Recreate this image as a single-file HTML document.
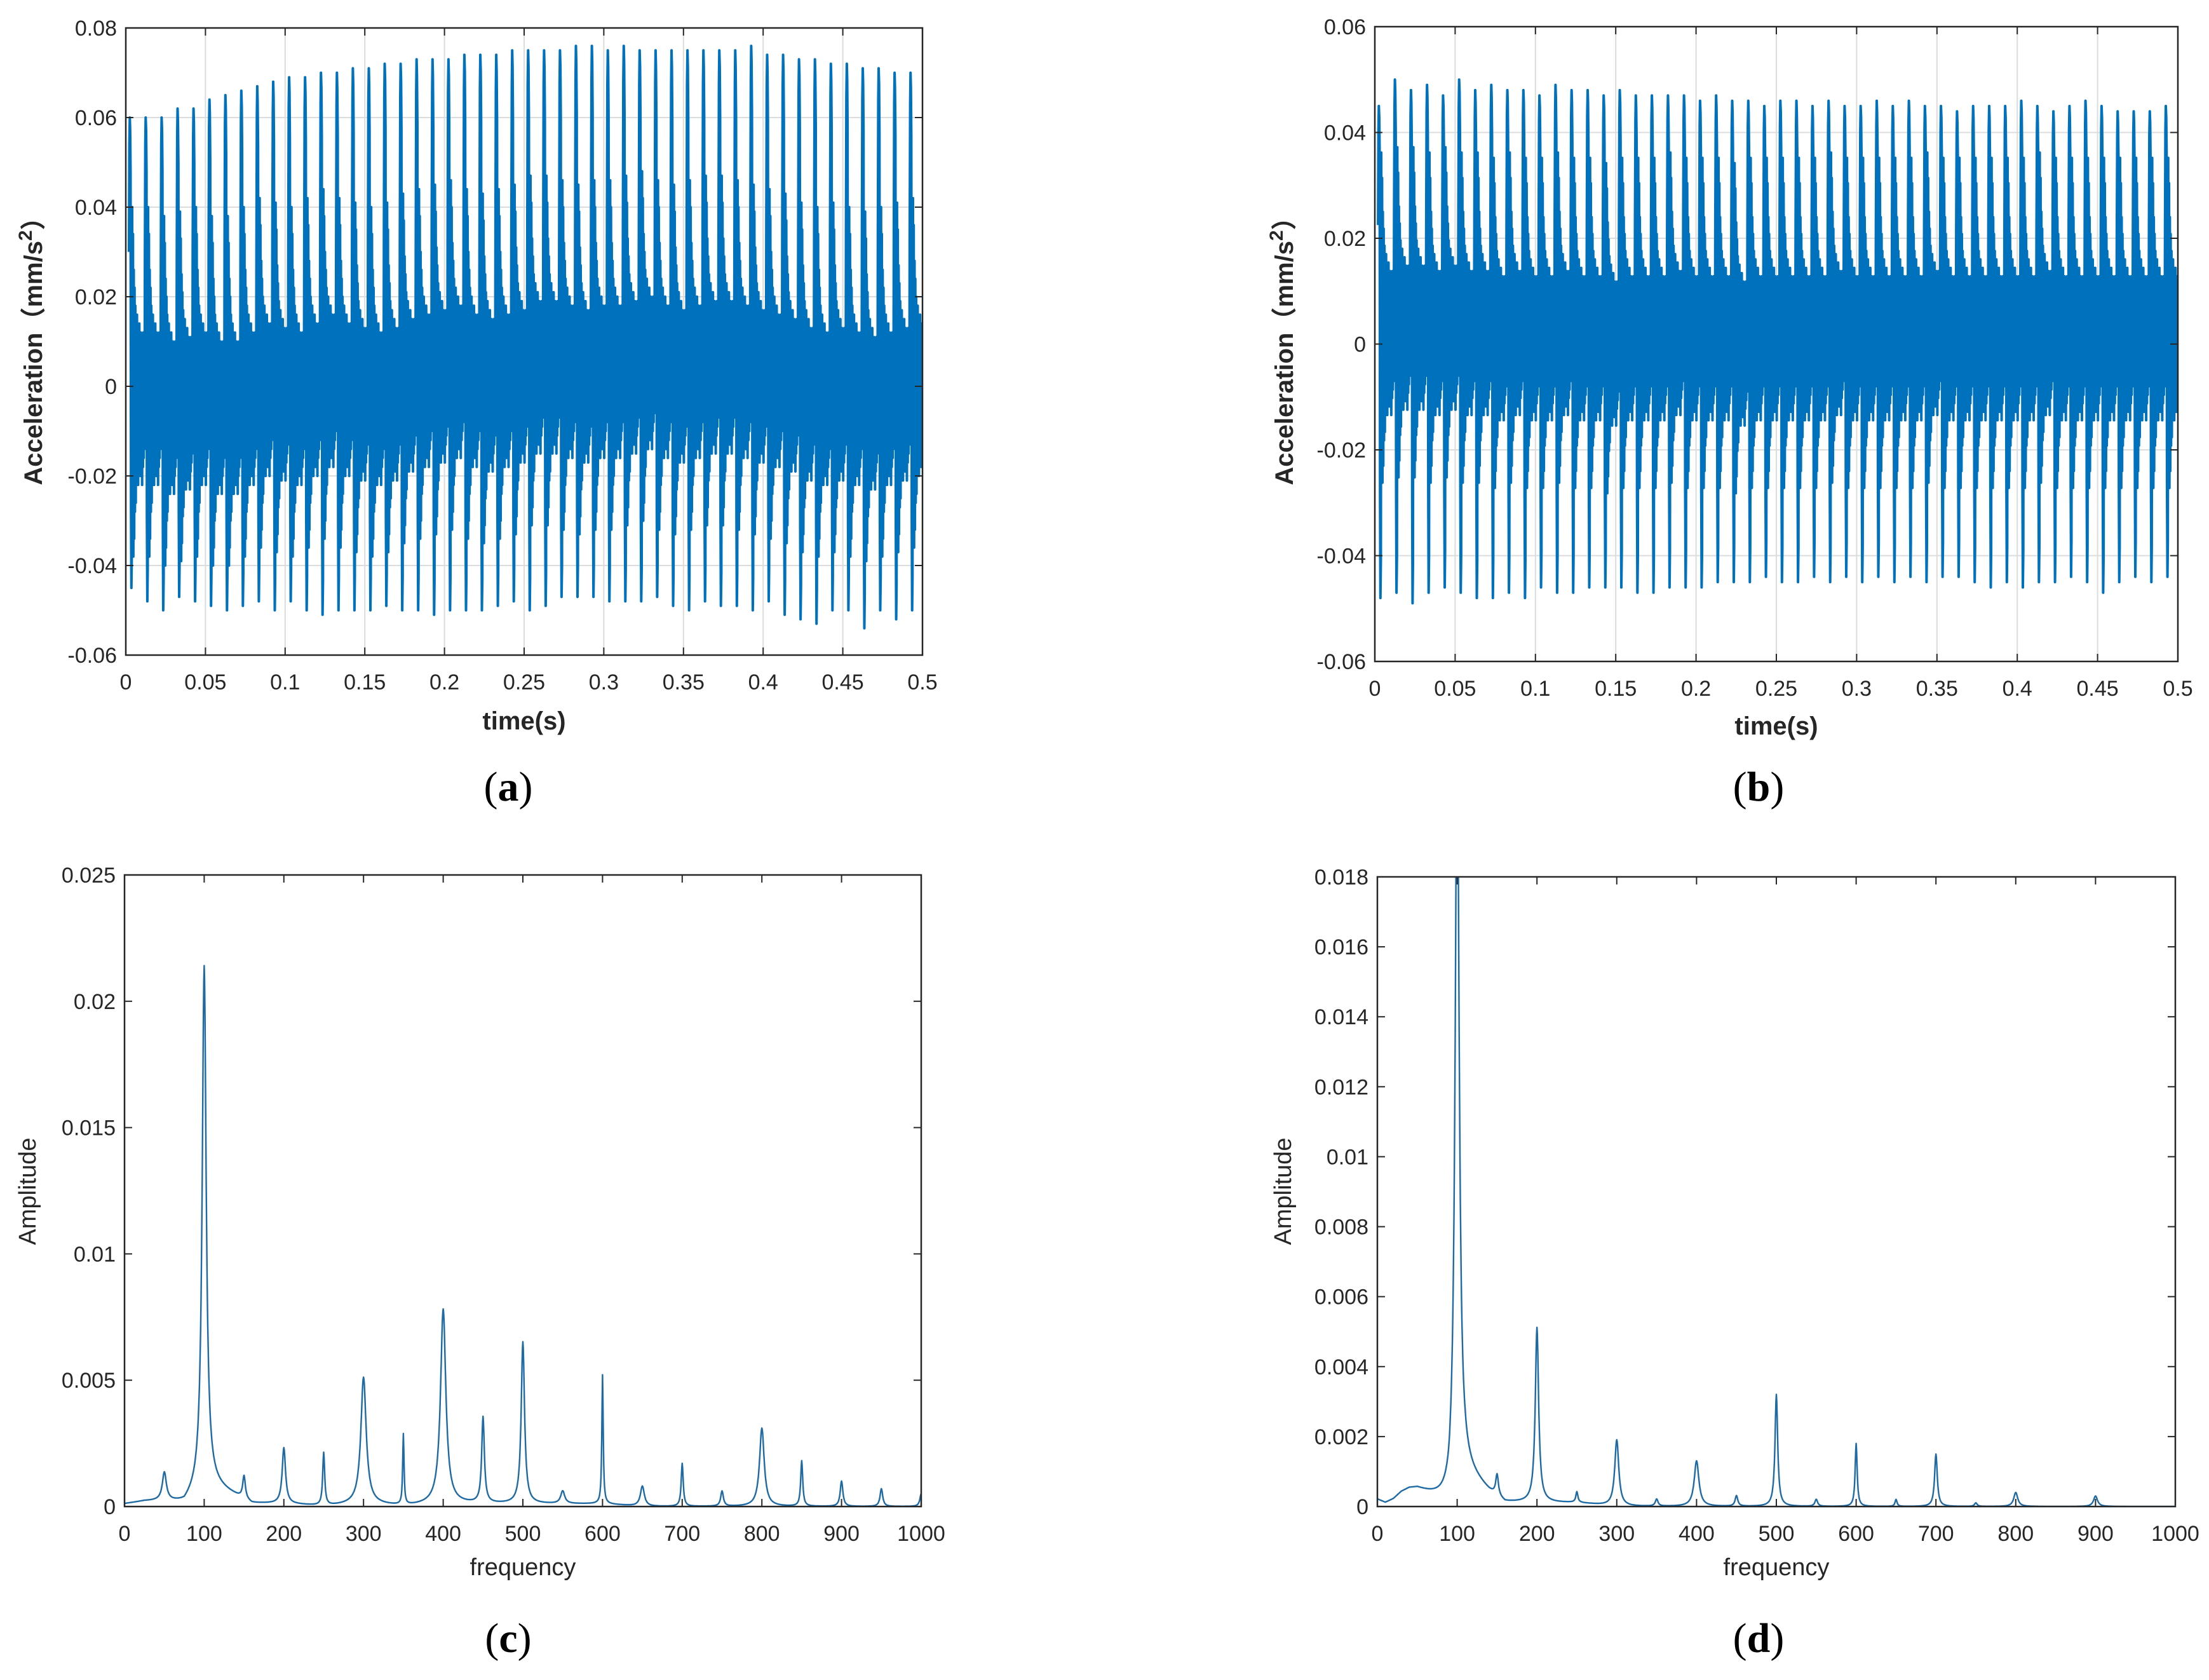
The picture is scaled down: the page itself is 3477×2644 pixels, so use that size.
<!DOCTYPE html>
<html><head><meta charset="utf-8"><style>
html,body{margin:0;padding:0;background:#fff;}
svg{display:block;}
text{font-family:"Liberation Sans","Noto Sans CJK SC",sans-serif;}
</style></head><body>
<svg id="fig" xmlns="http://www.w3.org/2000/svg" width="3477" height="2644" viewBox="0 0 3477 2644"></svg>
<script>
// ---------- data: panel (a) time series, per-cycle extremes ----------
const cycleMaxA=[0.060,0.060,0.060,0.062,0.062,0.064,0.065,0.066,0.067,0.068,0.069,0.069,0.070,0.070,0.071,0.071,0.072,0.072,0.073,0.073,0.073,0.074,0.074,0.074,0.075,0.075,0.075,0.075,0.076,0.076,0.075,0.076,0.075,0.075,0.075,0.075,0.075,0.075,0.075,0.076,0.074,0.074,0.073,0.073,0.072,0.072,0.071,0.071,0.070,0.070];
const cycleMinA=[-0.045,-0.048,-0.050,-0.047,-0.048,-0.049,-0.050,-0.049,-0.048,-0.050,-0.048,-0.050,-0.051,-0.050,-0.050,-0.050,-0.049,-0.050,-0.050,-0.051,-0.050,-0.050,-0.050,-0.049,-0.048,-0.050,-0.049,-0.047,-0.047,-0.047,-0.048,-0.048,-0.048,-0.047,-0.049,-0.050,-0.048,-0.049,-0.049,-0.050,-0.048,-0.051,-0.052,-0.053,-0.050,-0.050,-0.054,-0.050,-0.052,-0.050];
const cycleOffA=[-0.004,-0.004,-0.006,-0.005,-0.004,-0.006,-0.006,-0.004,-0.002,-0.003,-0.004,-0.002,0,-0.002,-0.003,-0.004,-0.003,-0.001,0,0.001,0.002,0,-0.001,0,0.001,0.003,0.003,0.002,0.001,0.002,0.002,0.003,0.004,0.002,0.001,0.002,0.003,0.003,0.002,0.001,0.000,-0.001,-0.003,-0.004,-0.003,-0.004,-0.005,-0.004,-0.003,-0.002];
const interiorAmpA=0.02;
// ---------- data: panel (b) ----------
const cycleMaxB=[0.045,0.050,0.048,0.049,0.047,0.050,0.048,0.049,0.048,0.048,0.047,0.049,0.048,0.048,0.047,0.048,0.047,0.047,0.047,0.047,0.046,0.047,0.046,0.046,0.045,0.046,0.046,0.045,0.046,0.045,0.045,0.046,0.045,0.046,0.045,0.045,0.044,0.045,0.045,0.045,0.046,0.045,0.044,0.045,0.046,0.045,0.044,0.044,0.044,0.045];
const cycleMinB=[-0.048,-0.047,-0.049,-0.047,-0.046,-0.047,-0.048,-0.048,-0.047,-0.048,-0.046,-0.047,-0.047,-0.046,-0.046,-0.046,-0.047,-0.047,-0.046,-0.046,-0.046,-0.045,-0.045,-0.045,-0.044,-0.045,-0.045,-0.044,-0.045,-0.044,-0.045,-0.044,-0.045,-0.044,-0.045,-0.044,-0.044,-0.045,-0.046,-0.045,-0.046,-0.045,-0.045,-0.044,-0.045,-0.047,-0.045,-0.044,-0.045,-0.044];
const cycleOffB=[0.001,0.002,0.002,0.001,0.002,0.001,0.001,0,0.001,0,0,0.001,0,0,-0.001,0,0,0,0.001,0,0,0,-0.001,0,0,0,0,0,0.001,0,0,0,0,0,0.001,0,0,0,0,0,0,0.001,0,0,0,0,0,0,0,0];
const interiorAmpB=0.016;
// normalised within-cycle waveform; kind: p = scaled by cycle max, n = by |cycle min|, i = by interior amplitude
const shapeVals=[0.5,0.9,1.0,0.95,0.8,-0.6,-1.0,-0.85,2.2,-1.4,1.9,-1.7,1.5,-1.5,1.3,-1.2,1.1,-1.1,1.0,-0.9,1.0,-0.8,0.9,-0.9,0.8,-0.8,0.9,-0.7,0.7,-0.8,0.8,-0.7,0.7,-0.9,0.6,-0.7,0.8,-0.6,0.5,-0.5];
const shapeKind="pppppnnniiiiiiiiiiiiiiiiiiiiiiiiiiiiiiii";
// ---------- data: panel (c) spectrum ----------
const peakFreqC=[50,100,150,200,250,300,350,400,450,500,550,600,650,700,750,800,850,900,950,1000];
const peakAmpC=[0.0011,0.0206,0.0009,0.0022,0.0021,0.0050,0.0028,0.0077,0.0034,0.0064,0.0005,0.0051,0.0008,0.0017,0.0006,0.0031,0.0018,0.0010,0.0007,0.0005];
const peakWidthC=[3,3,2,2.5,1.5,4,1,4,2,2.5,3,1,3,1.5,2,3.5,1.5,2,2,2];
const baseFreqC=[0,25,50,75,100,110,125,140,160,200,250,300,350,400,450,500,550,600,650,700,750,800,850,900,950,1000];
const baseAmpC=[0.0001,0.0002,0.0002,0.0001,0.0008,0.0008,0.0006,0.0004,0.0001,0.0001,0.0,0.0001,0.0,0.0001,0.0001,0.0001,0.0001,0.0001,0.0,0.0,0.0,0.0,0.0,0.0,0.0,0.0];
// ---------- data: panel (d) spectrum ----------
const peakFreqD=[100,150,200,250,300,350,400,450,500,550,600,650,700,750,800,900];
const peakAmpD=[0.0215,0.0006,0.0050,0.0003,0.0019,0.0002,0.0013,0.0003,0.0032,0.0002,0.0018,0.0002,0.0015,0.0001,0.0004,0.0003];
const peakWidthD=[3,2,2.5,1.5,3,2,3.5,2,2,2,1.5,1.5,2,2,3,3];
const baseFreqD=[0,10,20,30,40,50,60,70,80,90,100,110,125,140,160,200,250,300,400,500,600,700,800,900,1000];
const baseAmpD=[0.0002,0.0001,0.0002,0.0004,0.0005,0.0005,0.0004,0.0003,0.0002,0.0001,0.0009,0.0010,0.0007,0.0004,0.0001,0.0001,0.0001,0.0,0.0,0.0,0.0,0.0,0.0,0.0,0.0];
// ---------- tick labels ----------
const xTicksTime=[0,0.05,0.1,0.15,0.2,0.25,0.3,0.35,0.4,0.45,0.5];
const xTicksTimeLabels=["0","0.05","0.1","0.15","0.2","0.25","0.3","0.35","0.4","0.45","0.5"];
const yTicksA=[-0.06,-0.04,-0.02,0,0.02,0.04,0.06,0.08];
const yTicksALabels=["-0.06","-0.04","-0.02","0","0.02","0.04","0.06","0.08"];
const yTicksB=[-0.06,-0.04,-0.02,0,0.02,0.04,0.06];
const yTicksBLabels=["-0.06","-0.04","-0.02","0","0.02","0.04","0.06"];
const xTicksFreq=[0,100,200,300,400,500,600,700,800,900,1000];
const xTicksFreqLabels=["0","100","200","300","400","500","600","700","800","900","1000"];
const yTicksC=[0,0.005,0.01,0.015,0.02,0.025];
const yTicksCLabels=["0","0.005","0.01","0.015","0.02","0.025"];
const yTicksD=[0,0.002,0.004,0.006,0.008,0.01,0.012,0.014,0.016,0.018];
const yTicksDLabels=["0","0.002","0.004","0.006","0.008","0.01","0.012","0.014","0.016","0.018"];

const NS="http://www.w3.org/2000/svg";
const svg=document.getElementById('fig');
function mk(tag,attrs,parent){const e=document.createElementNS(NS,tag);for(const k in attrs)e.setAttribute(k,attrs[k]);(parent||svg).appendChild(e);return e;}

function axes(P,id){
  const g=mk('g',{});
  
  
  P.sx=v=>P.l+(v-P.xmin)/(P.xmax-P.xmin)*(P.r-P.l);
  P.sy=v=>P.b-(v-P.ymin)/(P.ymax-P.ymin)*(P.b-P.t);
  mk('rect',{x:P.l,y:P.t,width:P.r-P.l,height:P.b-P.t,fill:'#fff'},g);
  const cp=mk('clipPath',{id:'clip'+id},g);
  mk('rect',{x:P.l,y:P.t,width:P.r-P.l,height:P.b-P.t},cp);
  P.g=g;
  P.gridG=mk('g',{},g);
  return g;
}
function frame(P,id){
  const g=P.g;
  if(P.grid){
    P.xt.forEach(v=>{mk('line',{x1:P.sx(v),x2:P.sx(v),y1:P.t,y2:P.b,stroke:'#dcdcdc','stroke-width':2},P.gridG);});
    P.yt.forEach(v=>{mk('line',{x1:P.l,x2:P.r,y1:P.sy(v),y2:P.sy(v),stroke:'#dcdcdc','stroke-width':2},P.gridG);});
  }
  const tl=12;
  P.xt.forEach((v,i)=>{
    const x=P.sx(v);
    mk('line',{x1:x,x2:x,y1:P.b,y2:P.b-tl,stroke:'#262626','stroke-width':2},g);
    mk('line',{x1:x,x2:x,y1:P.t,y2:P.t+tl,stroke:'#262626','stroke-width':2},g);
    const t=mk('text',{x:x,y:P.b+54,'text-anchor':'middle','font-size':34,fill:'#262626'},g);
    
    
    t.textContent=P.xl[i];
  });
  P.yt.forEach((v,i)=>{
    const y=P.sy(v);
    mk('line',{x1:P.l,x2:P.l+tl,y1:y,y2:y,stroke:'#262626','stroke-width':2},g);
    mk('line',{x1:P.r,x2:P.r-tl,y1:y,y2:y,stroke:'#262626','stroke-width':2},g);
    const t=mk('text',{x:P.l-14,y:y+12,'text-anchor':'end','font-size':34,fill:'#262626'},g);
    
    
    t.textContent=P.yl[i];
  });
  const bx=mk('rect',{x:P.l,y:P.t,width:P.r-P.l,height:P.b-P.t,fill:'none',stroke:'#262626','stroke-width':2.5},g);
  
  
}
function timeSeries(P,id,maxs,mins,offs,iamp){
  const N=shapeVals.length;let d='';
  for(let i=0;i<maxs.length;i++){
    for(let k=0;k<N;k++){
      const t=i*0.01+0.002+k*0.01/N;
      if(t>P.xmax)break;
      const s=shapeVals[k],kind=shapeKind[k];
      let v;
      if(kind==='p')v=s*maxs[i];
      else if(kind==='n')v=s*(-mins[i]);
      else v=s*iamp+offs[i];
      d+=(d?'L':'M')+P.sx(t).toFixed(1)+','+P.sy(v).toFixed(1);
    }
  }
  const p=mk('path',{d:d,fill:'none',stroke:'#0072BD','stroke-width':4,'stroke-linejoin':'round','clip-path':'url(#clip'+id+')'},P.g);
  
  
}
function spectrum(P,id,pf,pa,pw,bf,ba){
  let d='';
  for(let f=0;f<=1000;f+=0.5){
    let j=0;while(j<bf.length-2&&bf[j+1]<f)j++;
    const u=(f-bf[j])/(bf[j+1]-bf[j]);
    let v=ba[j]+(ba[j+1]-ba[j])*Math.max(0,Math.min(1,u));
    for(let m=0;m<pf.length;m++){const w=pw[m];v+=pa[m]*w*w/(w*w+(f-pf[m])*(f-pf[m]));}
    d+=(d?'L':'M')+P.sx(f).toFixed(1)+','+P.sy(v).toFixed(1);
  }
  const p=mk('path',{d:d,fill:'none',stroke:'#1d6aa5','stroke-width':2.4,'stroke-linejoin':'round','clip-path':'url(#clip'+id+')'},P.g);
  
  
}
function label(txt,x,y,opts){
  const t=mk('text',Object.assign({x:x,y:y,'text-anchor':'middle',fill:'#262626'},opts||{}));
  t.textContent=txt;return t;
}

const A={l:198,r:1452,t:44,b:1031,xmin:0,xmax:0.5,ymin:-0.06,ymax:0.08,grid:true,xt:xTicksTime,xl:xTicksTimeLabels,yt:yTicksA,yl:yTicksALabels};
axes(A,'a');timeSeries(A,'a',cycleMaxA,cycleMinA,cycleOffA,interiorAmpA);frame(A,'a');
const B={l:2164,r:3428,t:42,b:1041,xmin:0,xmax:0.5,ymin:-0.06,ymax:0.06,grid:true,xt:xTicksTime,xl:xTicksTimeLabels,yt:yTicksB,yl:yTicksBLabels};
axes(B,'b');timeSeries(B,'b',cycleMaxB,cycleMinB,cycleOffB,interiorAmpB);frame(B,'b');
const C={l:196,r:1450,t:1377,b:2371,xmin:0,xmax:1000,ymin:0,ymax:0.025,grid:false,xt:xTicksFreq,xl:xTicksFreqLabels,yt:yTicksC,yl:yTicksCLabels};
axes(C,'c');spectrum(C,'c',peakFreqC,peakAmpC,peakWidthC,baseFreqC,baseAmpC);frame(C,'c');
const D={l:2168,r:3424,t:1380,b:2371,xmin:0,xmax:1000,ymin:0,ymax:0.018,grid:false,xt:xTicksFreq,xl:xTicksFreqLabels,yt:yTicksD,yl:yTicksDLabels};
axes(D,'d');spectrum(D,'d',peakFreqD,peakAmpD,peakWidthD,baseFreqD,baseAmpD);frame(D,'d');

function yTitleAcc(x,y,name){
  const t=mk('text',{x:0,y:0,'text-anchor':'middle','font-size':40,'font-weight':'bold',fill:'#262626',transform:'translate('+x+','+y+') rotate(-90)'});
  
  
  t.innerHTML='Acceleration（mm/s<tspan dy="-16" font-size="30">2</tspan><tspan dy="16">）</tspan>';
}
yTitleAcc(66,543,'y-axis-title-a');
yTitleAcc(2035,543,'y-axis-title-b');
let t;
t=label('time(s)',825,1148,{'font-size':40,'font-weight':'bold'});


t=label('time(s)',2796,1156,{'font-size':40,'font-weight':'bold'});


t=label('frequency',823,2479,{'font-size':38});


t=label('frequency',2796,2479,{'font-size':38});


t=mk('text',{x:0,y:0,'text-anchor':'middle','font-size':38,fill:'#262626',transform:'translate(56,1875) rotate(-90)'});
t.textContent='Amplitude';


t=mk('text',{x:0,y:0,'text-anchor':'middle','font-size':38,fill:'#262626',transform:'translate(2032,1875) rotate(-90)'});
t.textContent='Amplitude';


function panelLetter(ch,x,y,name){
  const e=mk('text',{x:x,y:y,'text-anchor':'middle','font-size':66,fill:'#000',style:'font-family:"Liberation Serif",serif'});
  
  
  e.innerHTML='(<tspan font-weight="bold">'+ch+'</tspan>)';
}
panelLetter('a',800,1260,'panel-label-a');
panelLetter('b',2768,1260,'panel-label-b');
panelLetter('c',800,2600,'panel-label-c');
panelLetter('d',2768,2600,'panel-label-d');
</script>
</body></html>
